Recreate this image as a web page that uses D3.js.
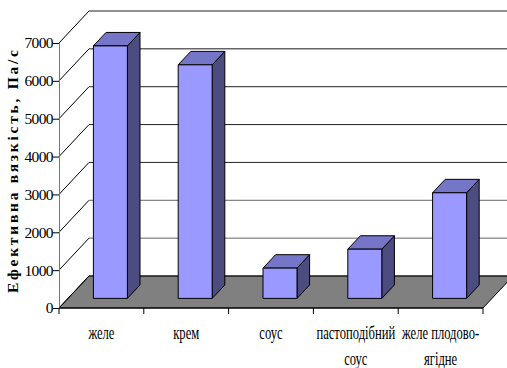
<!DOCTYPE html>
<html><head><meta charset="utf-8">
<script src="https://cdn.jsdelivr.net/npm/d3@7"></script>
<style>body{margin:0;background:#fff}svg{display:block}</style>
</head><body>
<svg id="c" width="507" height="368"></svg>
<script>
const categories = ["желе", "крем", "соус", "пастоподібний соус", "желе плодово-ягідне"];
const labelLines = [["желе"], ["крем"], ["соус"], ["пастоподібний", "соус"], ["желе плодово-", "ягідне"]];
const values = [6670, 6170, 800, 1300, 2790];
const yTicks = [0, 1000, 2000, 3000, 4000, 5000, 6000, 7000];
const yTitle = "Ефективна вязкість, Па/с";

const svg = d3.select("#c");
const x = d3.scaleBand().domain(categories).range([59, 483]).paddingInner(0).paddingOuter(0);
const y = d3.scaleLinear().domain([0, 7000]).range([308, 43]);
const DX = 30, DY = 32;
const P = (px, v, z) => [px + z * DX, y(v) - z * DY];

// floor
const floorPts = [P(59,0,0), P(483,0,0), P(483,0,1), P(59,0,1)];
svg.append("polygon").attr("points", floorPts.map(p=>p.join(",")).join(" "))
  .attr("fill", "#808080").attr("stroke", "#000").attr("stroke-width", 1);

// walls: left-wall diagonals and back-wall gridlines
yTicks.forEach(v => {
  const a = P(59, v, 0), b = P(59, v, 1), c = P(520, v, 1);
  svg.append("line").attr("x1", a[0]).attr("y1", a[1]).attr("x2", b[0]).attr("y2", b[1])
    .attr("stroke", "#000").attr("stroke-width", 1);
  svg.append("line").attr("x1", b[0]).attr("y1", b[1]).attr("x2", c[0]).attr("y2", c[1])
    .attr("stroke", v === 6000 || v === 2000 || v === 1000 ? "#666" : "#222").attr("stroke-width", v===6000?1.5:1);
});

// y axis
const yAxis = d3.axisLeft(y).tickValues(yTicks).tickSize(6).tickPadding(0).tickFormat(d3.format("d"));
const ga = svg.append("g").attr("transform", "translate(59,0)").call(yAxis);
ga.select(".domain").attr("stroke", "#777");
ga.selectAll(".tick line").attr("stroke", "#000");
ga.selectAll(".tick text").attr("font-family", "'Liberation Serif', serif").attr("font-size", 15.5)
  .attr("letter-spacing", "-0.6px").attr("fill", "#000");

// x axis line + ticks
svg.append("line").attr("x1", 59).attr("y1", 308).attr("x2", 483).attr("y2", 308).attr("stroke", "#000");
const bounds = categories.map(c => x(c)).concat([x.range()[1]]);
bounds.forEach(b => svg.append("line").attr("x1", b).attr("x2", b).attr("y1", 308).attr("y2", 314).attr("stroke", "#000"));

// bars
const z0 = 0.3, z1 = 0.72, bw = 34;
categories.forEach((c, i) => {
  const cx = x(c) + x.bandwidth() / 2;
  const xl = cx - bw / 2, xr = cx + bw / 2;
  const v = values[i];
  const fbl = P(xl, 0, z0), fbr = P(xr, 0, z0), ftl = P(xl, v, z0), ftr = P(xr, v, z0);
  const bbr = P(xr, 0, z1), btl = P(xl, v, z1), btr = P(xr, v, z1);
  const poly = (pts, fill) => svg.append("polygon").attr("points", pts.map(p=>p.join(",")).join(" "))
    .attr("fill", fill).attr("stroke", "#000").attr("stroke-width", 1).attr("stroke-linejoin", "round");
  poly([fbr, bbr, btr, ftr], "#4c4c80");
  poly([ftl, ftr, btr, btl], "#7676c8");
  poly([fbl, fbr, ftr, ftl], "#9999ff");
});

// category labels
labelLines.forEach((lines, i) => {
  const cx = x(categories[i]) + x.bandwidth() / 2;
  lines.forEach((t, j) => {
    svg.append("text").attr("transform", `translate(${cx},${339 + j * 26}) scale(0.7,1)`)
      .attr("text-anchor", "middle").attr("font-family", "'Liberation Serif', serif")
      .attr("font-size", 18).attr("fill", "#000").text(t);
  });
});

// y title
svg.append("text").attr("transform", "translate(18,171.5) rotate(-90)")
  .attr("text-anchor", "middle").attr("font-family", "'Liberation Serif', serif")
  .attr("font-weight", "bold").attr("font-size", 15.5).attr("fill", "#000")
  .attr("textLength", 243).attr("lengthAdjust", "spacing").text(yTitle);
</script>
</body></html>
